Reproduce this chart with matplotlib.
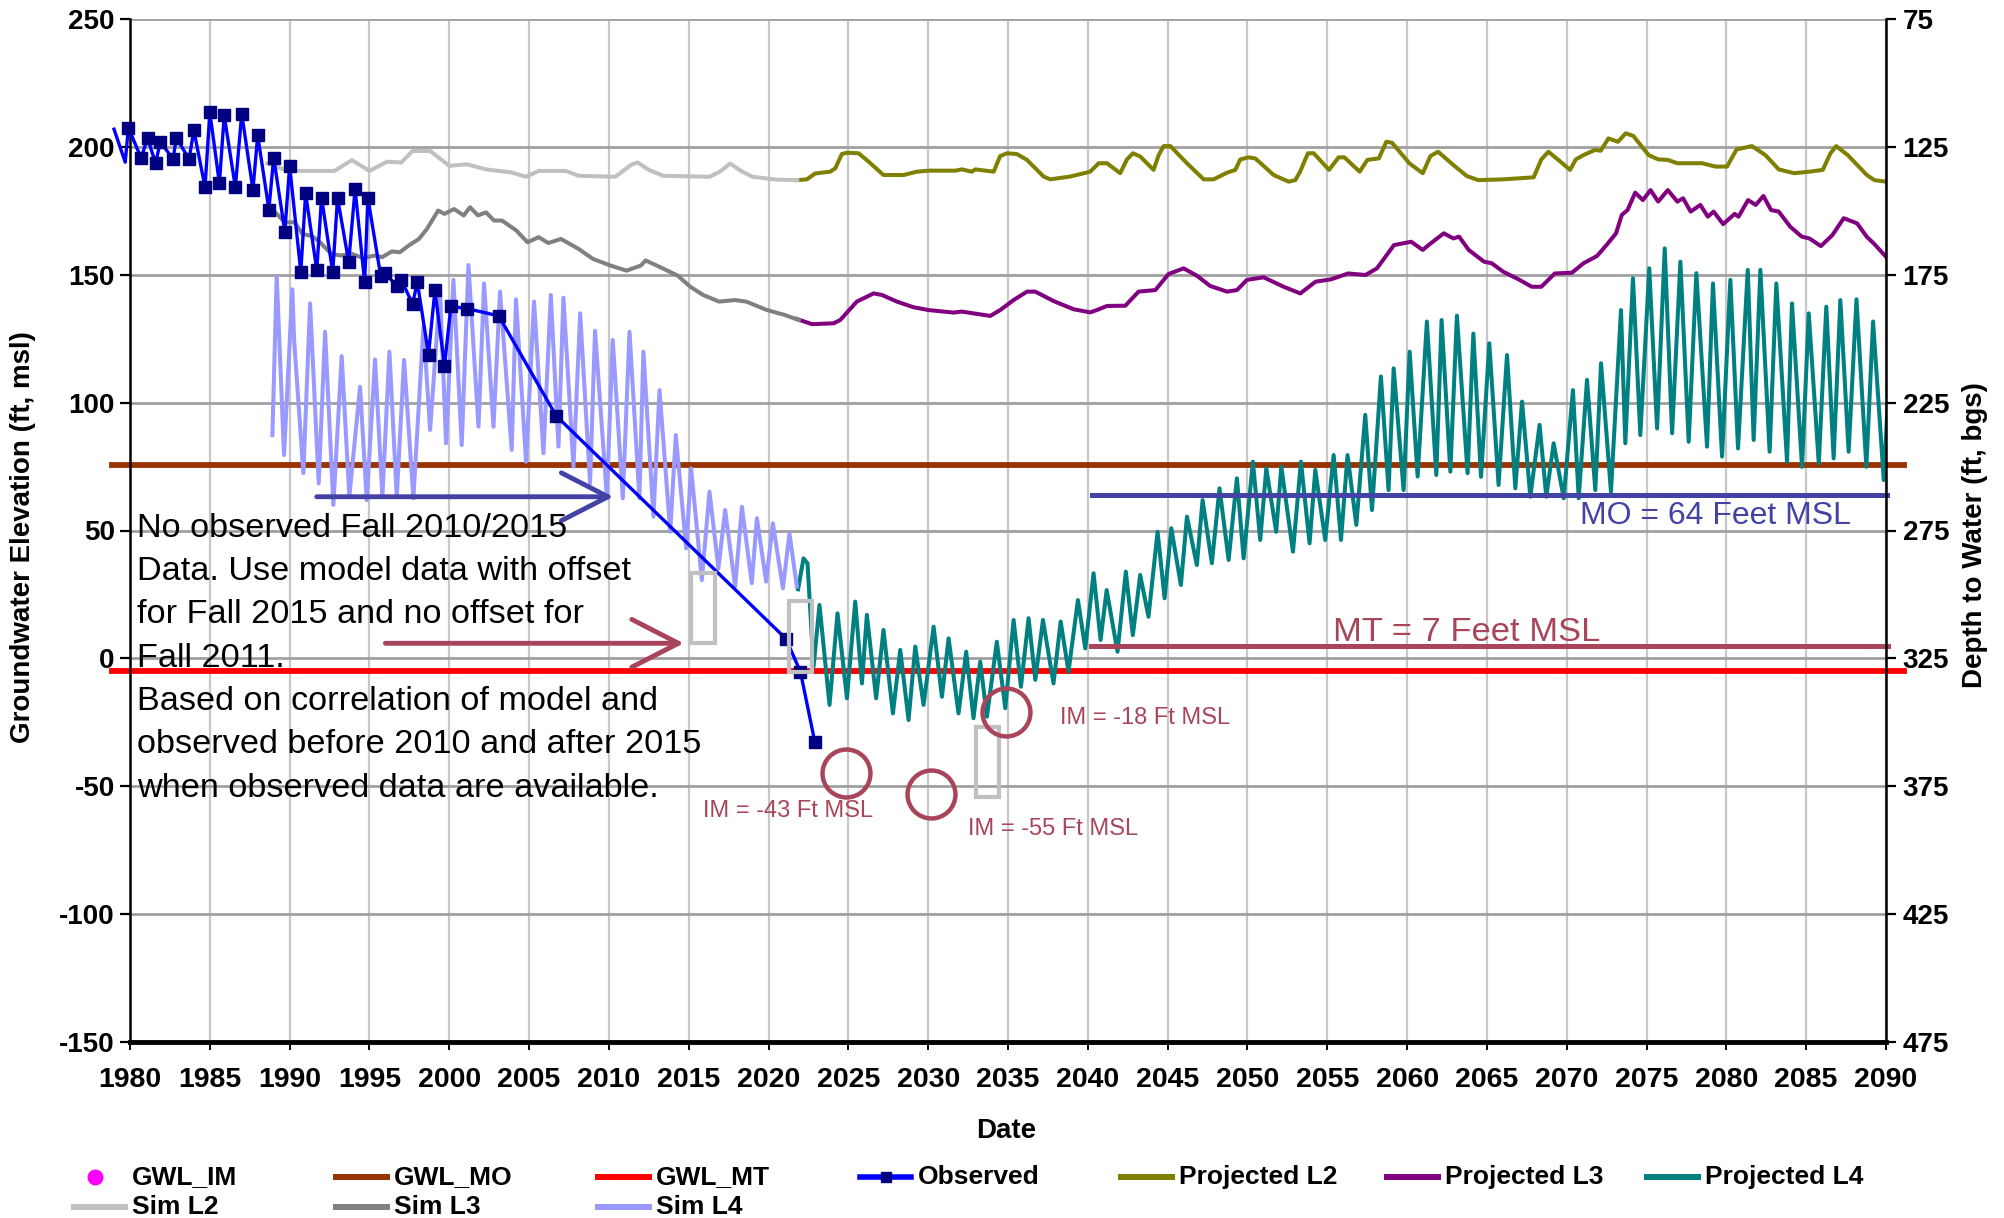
import matplotlib
matplotlib.use("Agg")
import matplotlib.pyplot as plt
from matplotlib.lines import Line2D
from matplotlib.patches import Rectangle

plt.rcParams["font.family"] = ["Liberation Sans", "DejaVu Sans"]
plt.rcParams["axes.unicode_minus"] = False

# ---- values ----
obs_year = [1979.0, 1979.7, 1979.9, 1980.7, 1981.1, 1981.6, 1981.9, 1982.7, 1982.9, 1983.7,
            1984.0, 1984.7, 1985.0, 1985.6, 1985.9, 1986.6, 1987.0, 1987.7, 1988.0, 1988.7,
            1989.0, 1989.7, 1990.0, 1990.7, 1991.0, 1991.7, 1992.0, 1992.7, 1993.0, 1993.7,
            1994.1, 1994.7, 1994.9, 1995.7, 1996.0, 1996.7, 1997.0, 1997.7, 1998.0, 1998.7,
            1999.1, 1999.7, 2000.1, 2001.1, 2003.1, 2006.7, 2021.1, 2022.0, 2022.9]
obs_elev = [206.9, 194.0, 207.5, 195.6, 203.6, 193.5, 202.0, 195.2, 203.6, 195.2,
            206.5, 184.2, 213.6, 185.7, 212.3, 184.2, 213.0, 183.2, 204.5, 175.5,
            195.8, 166.9, 192.6, 151.0, 181.8, 151.8, 180.1, 151.0, 180.1, 155.0,
            183.5, 147.0, 180.1, 149.7, 150.6, 145.6, 147.9, 138.6, 147.1, 118.8,
            143.9, 114.3, 137.6, 136.8, 133.9, 94.8, 7.6, -5.3, -32.7]

sim_l2_year = [1988.6, 1989.5, 1990.0, 1992.8, 1993.9, 1995.0, 1996.1, 1997.0, 1997.7, 1998.8,
               2000.0, 2001.1, 2002.3, 2003.9, 2004.8, 2005.6, 2007.3, 2008.1, 2010.4, 2011.4,
               2011.8, 2012.5, 2013.4, 2016.3, 2017.0, 2017.6, 2018.3, 2019.0, 2020.5, 2021.8]
sim_l2_elev = [193.5, 191.5, 190.6, 190.6, 194.8, 190.6, 194.2, 193.9, 198.4, 198.4,
               192.6, 193.2, 191.2, 190.0, 188.3, 190.6, 190.6, 188.7, 188.3, 193.0,
               193.9, 191.0, 188.7, 188.3, 190.5, 193.5, 190.5, 188.3, 187.2, 187.0]

sim_l3_year = [1988.7, 1989.1, 1989.7, 1990.3, 1990.8, 1991.4, 1991.9, 1992.6, 1993.2, 1993.9,
               1994.6, 1995.3, 1995.8, 1996.4, 1996.9, 1997.5, 1998.1, 1998.6, 1999.3, 1999.7,
               2000.3, 2000.9, 2001.3, 2001.8, 2002.3, 2002.8, 2003.3, 2004.2, 2004.9, 2005.6,
               2006.2, 2007.0, 2008.1, 2009.0, 2010.1, 2011.1, 2012.0, 2012.3, 2013.2, 2014.3,
               2015.1, 2015.9, 2016.9, 2017.9, 2018.6, 2019.9, 2021.0, 2021.9]
sim_l3_elev = [175.5, 174.4, 170.5, 170.5, 166.0, 165.1, 162.7, 158.2, 157.5, 158.2,
               156.5, 157.5, 156.9, 159.1, 158.8, 161.6, 164.0, 167.9, 175.1, 173.8,
               175.7, 173.2, 176.4, 173.2, 174.4, 171.2, 171.2, 167.3, 162.7, 164.7,
               162.4, 164.0, 160.1, 156.2, 153.6, 151.6, 153.6, 155.6, 153.0, 149.7,
               145.3, 142.1, 139.5, 140.1, 139.5, 136.2, 134.3, 132.3]

sim_l4_year = [1988.92, 1989.19, 1989.65, 1990.17, 1990.28, 1990.86, 1991.28, 1991.82, 1992.22, 1992.74,
               1993.26, 1993.74, 1994.41, 1994.83, 1995.35, 1995.81, 1996.25, 1996.71, 1997.17, 1997.75,
               1998.38, 1998.80, 1999.42, 1999.80, 2000.26, 2000.78, 2001.20, 2001.83, 2002.18, 2002.77,
               2003.18, 2003.91, 2004.18, 2004.81, 2005.31, 2005.90, 2006.36, 2006.84, 2007.15, 2007.78,
               2008.20, 2008.82, 2009.13, 2009.87, 2010.24, 2010.87, 2011.29, 2011.91, 2012.16, 2012.79,
               2013.17, 2013.84, 2014.19, 2014.84, 2015.15, 2015.82, 2016.30, 2016.86, 2017.28, 2017.91,
               2018.33, 2018.95, 2019.27, 2019.85, 2020.27, 2020.90, 2021.31, 2021.77]
sim_l4_elev = [87.3, 149.3, 79.5, 144.3, 124.5, 72.4, 138.8, 68.4, 127.7, 60.0,
               118.2, 63.2, 106.2, 61.9, 116.9, 63.2, 119.9, 63.2, 116.7, 62.6,
               129.7, 89.3, 144.0, 84.1, 148.0, 83.4, 153.8, 90.6, 146.6, 90.6,
               143.4, 81.5, 140.4, 76.9, 139.5, 80.2, 142.1, 82.8, 141.0, 75.0,
               134.9, 68.4, 128.1, 63.2, 124.5, 62.6, 127.7, 62.6, 119.9, 55.4,
               104.9, 49.5, 87.3, 43.0, 74.3, 30.6, 65.2, 35.2, 58.0, 28.1,
               59.3, 29.4, 54.8, 30.0, 52.8, 27.4, 48.9, 28.1]

proj_l2_year = [2021.77, 2022.40, 2022.92, 2023.86, 2024.18, 2024.59, 2024.91, 2025.64, 2026.27, 2027.20,
                2028.46, 2029.29, 2030.02, 2031.70, 2032.11, 2032.74, 2032.95, 2034.10, 2034.51, 2034.93,
                2035.56, 2036.19, 2037.23, 2037.65, 2038.90, 2040.15, 2040.68, 2041.20, 2042.03, 2042.45,
                2042.83, 2043.29, 2044.12, 2044.44, 2044.75, 2045.17, 2046.21, 2047.26, 2047.88, 2048.72,
                2049.24, 2049.55, 2050.07, 2050.49, 2051.64, 2052.58, 2053.00, 2053.31, 2053.79, 2054.15,
                2055.11, 2055.71, 2056.07, 2057.03, 2057.51, 2058.23, 2058.70, 2059.06, 2060.14, 2060.98,
                2061.46, 2061.94, 2062.90, 2063.74, 2064.46, 2066.02, 2067.93, 2068.41, 2068.85, 2069.61,
                2070.21, 2070.57, 2071.05, 2071.77, 2072.13, 2072.61, 2073.21, 2073.69, 2074.17, 2075.13,
                2075.73, 2076.33, 2076.93, 2078.48, 2079.32, 2080.04, 2080.64, 2081.60, 2082.44, 2083.28,
                2084.24, 2085.20, 2086.04, 2086.52, 2086.88, 2087.60, 2088.80, 2089.27, 2089.99]
proj_l2_elev = [187.0, 187.3, 189.6, 190.3, 191.6, 197.2, 197.7, 197.5, 194.2, 189.0,
                189.0, 190.3, 190.7, 190.7, 191.2, 190.3, 191.2, 190.3, 196.4, 197.5,
                197.2, 194.9, 188.4, 187.3, 188.4, 190.3, 193.6, 193.6, 189.7, 195.1,
                197.5, 196.2, 191.0, 196.8, 200.3, 200.3, 193.6, 187.3, 187.3, 189.9,
                191.0, 195.1, 195.9, 195.5, 189.0, 186.4, 187.0, 190.5, 197.5, 197.5,
                191.0, 195.9, 195.9, 190.3, 194.9, 195.5, 202.0, 201.6, 193.6, 189.7,
                196.4, 198.1, 192.9, 188.6, 187.0, 187.3, 188.1, 195.1, 198.1, 194.2,
                191.0, 195.1, 196.8, 198.8, 198.5, 203.3, 202.0, 205.3, 204.3, 196.8,
                195.1, 194.9, 193.6, 193.6, 192.3, 192.3, 199.0, 200.3, 196.8, 191.2,
                189.7, 190.3, 191.0, 197.5, 200.3, 196.8, 189.0, 187.0, 186.4]

proj_l3_year = [2021.77, 2022.71, 2024.07, 2024.49, 2025.53, 2026.58, 2027.10, 2028.04, 2029.08, 2030.02,
                2031.59, 2032.11, 2032.84, 2033.89, 2034.51, 2035.35, 2036.19, 2036.71, 2037.86, 2039.11,
                2040.15, 2040.57, 2041.20, 2042.35, 2043.18, 2044.23, 2045.06, 2046.00, 2046.84, 2047.67,
                2048.72, 2049.34, 2049.97, 2051.01, 2052.27, 2053.31, 2054.27, 2055.23, 2056.31, 2057.39,
                2058.11, 2059.18, 2060.26, 2060.98, 2061.34, 2062.30, 2062.90, 2063.26, 2063.86, 2064.82,
                2065.30, 2066.02, 2066.98, 2067.81, 2068.41, 2069.25, 2070.33, 2071.05, 2071.89, 2072.49,
                2073.09, 2073.45, 2073.81, 2074.29, 2074.77, 2075.25, 2075.73, 2076.33, 2076.93, 2077.29,
                2077.76, 2078.37, 2078.84, 2079.20, 2079.80, 2080.52, 2080.76, 2081.36, 2081.84, 2082.32,
                2082.80, 2083.28, 2084.00, 2084.72, 2085.20, 2085.92, 2086.64, 2087.35, 2088.19, 2088.79,
                2089.27, 2089.99]
proj_l3_elev = [132.7, 130.7, 131.0, 132.3, 139.5, 142.7, 142.1, 139.5, 137.3, 136.2,
                135.2, 135.6, 134.9, 133.9, 136.2, 140.1, 143.4, 143.4, 139.7, 136.5,
                135.3, 136.2, 137.8, 137.9, 143.4, 144.0, 150.3, 152.5, 149.6, 145.6,
                143.4, 144.0, 148.0, 149.0, 145.3, 142.7, 147.3, 148.2, 150.5, 149.9,
                152.5, 161.6, 162.9, 159.7, 161.6, 166.2, 164.2, 164.9, 159.7, 155.1,
                154.5, 151.2, 148.2, 145.3, 145.3, 150.5, 150.8, 154.5, 157.3, 161.6,
                166.2, 173.4, 175.3, 182.1, 179.2, 183.1, 178.6, 183.1, 178.6, 179.9,
                174.7, 177.3, 172.7, 174.7, 169.8, 173.8, 172.7, 179.2, 177.3, 180.8,
                175.3, 174.7, 168.8, 164.9, 164.2, 161.2, 165.5, 172.1, 170.1, 164.9,
                162.0, 157.1]

proj_l4_year = [2021.85, 2022.19, 2022.44, 2022.82, 2023.19, 2023.82, 2024.32, 2024.91, 2025.43, 2025.85,
                2026.16, 2026.74, 2027.20, 2027.79, 2028.25, 2028.77, 2029.19, 2029.71, 2030.34, 2030.86,
                2031.28, 2031.90, 2032.38, 2032.84, 2033.26, 2033.68, 2034.30, 2034.83, 2035.35, 2035.81,
                2036.29, 2036.71, 2037.19, 2037.85, 2038.30, 2038.79, 2039.38, 2039.84, 2040.36, 2040.80,
                2041.18, 2041.86, 2042.38, 2042.82, 2043.28, 2043.80, 2044.37, 2044.81, 2045.23, 2045.83,
                2046.21, 2046.83, 2047.19, 2047.77, 2048.25, 2048.82, 2049.34, 2049.76, 2050.34, 2050.80,
                2051.18, 2051.80, 2052.12, 2052.85, 2053.35, 2053.89, 2054.25, 2054.87, 2055.40, 2055.86,
                2056.27, 2056.82, 2057.38, 2057.80, 2058.36, 2058.84, 2059.16, 2059.78, 2060.16, 2060.66,
                2061.24, 2061.83, 2062.16, 2062.71, 2063.12, 2063.79, 2064.15, 2064.63, 2065.15, 2065.73,
                2066.26, 2066.78, 2067.20, 2067.72, 2068.30, 2068.72, 2069.18, 2069.81, 2070.39, 2070.75,
                2071.27, 2071.79, 2072.15, 2072.77, 2073.40, 2073.67, 2074.15, 2074.61, 2075.17, 2075.66,
                2076.14, 2076.60, 2077.12, 2077.64, 2078.12, 2078.79, 2079.16, 2079.73, 2080.25, 2080.73,
                2081.34, 2081.71, 2082.13, 2082.71, 2083.13, 2083.80, 2084.11, 2084.74, 2085.16, 2085.79,
                2086.26, 2086.72, 2087.14, 2087.66, 2088.15, 2088.77, 2089.19, 2089.86, 2090.15]
proj_l4_elev = [27.0, 39.1, 37.2, -3.2, 20.9, -18.2, 17.6, -15.6, 22.2, -9.8,
                17.0, -15.6, 11.1, -21.5, 3.3, -24.1, 4.6, -18.2, 12.4, -15.0,
                7.8, -21.5, 2.6, -23.4, -1.3, -22.8, 6.5, -19.5, 15.0, -11.1,
                15.7, -8.4, 15.0, -9.8, 14.4, -5.2, 22.8, 3.9, 33.3, 7.2,
                26.7, 2.6, 33.9, 9.1, 32.6, 16.3, 49.5, 23.5, 50.9, 28.7,
                55.4, 36.5, 61.9, 37.2, 66.5, 38.5, 70.4, 39.1, 76.9, 46.3,
                74.3, 49.5, 75.0, 41.7, 76.9, 45.0, 73.7, 46.3, 79.5, 46.3,
                79.5, 52.2, 95.2, 58.0, 110.2, 65.8, 113.4, 65.8, 119.9, 71.1,
                131.7, 71.7, 132.3, 73.0, 134.0, 72.4, 127.0, 71.0, 123.2, 67.8,
                118.6, 66.5, 100.4, 63.2, 91.3, 63.2, 84.1, 62.6, 104.9, 62.6,
                108.9, 65.8, 115.4, 65.2, 136.2, 84.1, 148.6, 87.3, 152.5, 89.9,
                160.3, 88.0, 155.1, 84.7, 150.6, 82.8, 146.6, 78.9, 148.0, 82.1,
                151.9, 85.4, 151.9, 80.8, 146.6, 76.9, 138.8, 74.9, 134.9, 76.2,
                137.5, 78.2, 140.1, 80.8, 140.4, 74.9, 131.7, 69.7, 105.0]

gwl_span = [1978.9, 2091.1]
gwl_mo = 75.5
gwl_mt = -5.0

mo_goal_span = [2040.25, 2090.05]
mo_goal = 64.0
mt_goal_span = [2040.2, 2090.1]
mt_goal = 5.0

im_year = [2024.88, 2030.15, 2034.9]
im_elev = [-44.7, -53.0, -21.1]

note_lines = ["No observed Fall 2010/2015",
              "Data. Use model data with offset",
              "for Fall 2015 and no offset for",
              "Fall 2011.",
              "Based on correlation of model and",
              "observed before 2010 and after 2015",
              "when observed data are available."]

year_ticks = list(range(1980, 2091, 5))
elev_ticks = list(range(-150, 251, 50))
depth_ticks = list(range(75, 476, 50))

MO_C, MT_C = "#993300", "#FF0000"
OBS_C, OBS_M = "#0000FF", "#000080"
PL2_C, PL3_C, PL4_C = "#808000", "#800080", "#008080"
SL2_C, SL3_C, SL4_C = "#C0C0C0", "#808080", "#9999FF"
IM_C = "#FF00FF"
NOTE_BLUE, NOTE_RED = "#4343A6", "#A8455A"

W, H = 2004, 1218
fig = plt.figure(figsize=(W / 100, H / 100), dpi=100)
ax = fig.add_axes([130 / W, 1 - 1042 / H, 1756 / W, 1023 / H])

# threshold lines (run slightly past the plot edges like the original)
ax.plot(gwl_span, [gwl_mo, gwl_mo], color=MO_C, lw=4.2, clip_on=False, zorder=2)
ax.plot(gwl_span, [gwl_mt, gwl_mt], color=MT_C, lw=4.2, clip_on=False, zorder=2)

lw = 2.9
ax.plot(proj_l2_year, proj_l2_elev, color=PL2_C, lw=lw, zorder=3)
ax.plot(proj_l3_year, proj_l3_elev, color=PL3_C, lw=lw, zorder=3)
ax.plot(proj_l4_year, proj_l4_elev, color=PL4_C, lw=lw, zorder=3)
ax.plot(sim_l2_year, sim_l2_elev, color=SL2_C, lw=lw, zorder=3)
ax.plot(sim_l3_year, sim_l3_elev, color=SL3_C, lw=lw, zorder=3)
ax.plot(sim_l4_year, sim_l4_elev, color=SL4_C, lw=lw, zorder=3)
ax.plot(obs_year, obs_elev, color=OBS_C, lw=2.4, marker="s", ms=8.5,
        mfc=OBS_M, mec=OBS_M, markevery=list(range(2, len(obs_year))),
        clip_on=False, zorder=4)

ax.set_xlim(1980, 2090)
ax.set_ylim(-150, 250)
ax.set_xticks(year_ticks)
ax.set_yticks(elev_ticks)
ax.xaxis.grid(True, color="#C8C8C8", lw=1.6)
ax.yaxis.grid(True, color="#A0A0A0", lw=2.0)
ax.set_axisbelow(True)
for s in ["top", "right"]:
    ax.spines[s].set_visible(False)
ax.spines["left"].set_linewidth(1.8)
ax.spines["bottom"].set_linewidth(3.5)
ax.tick_params(axis="y", labelsize=20, length=7, width=1.6, pad=4)
ax.tick_params(axis="x", labelsize=20.5, length=6, width=1.4, pad=12)

ax2 = ax.twinx()
ax2.set_ylim(325 - (-150), 325 - 250)
ax2.set_yticks(depth_ticks)
for s in ["top", "left", "bottom"]:
    ax2.spines[s].set_visible(False)
ax2.spines["right"].set_linewidth(1.8)
ax2.tick_params(axis="y", labelsize=20, length=7, width=1.6, pad=5)

for lab in ax.get_xticklabels() + ax.get_yticklabels() + ax2.get_yticklabels():
    lab.set_fontweight("bold")

fig.text(23 / W, 1 - 537 / H, "Groundwater Elevation (ft, msl)", rotation=90,
         ha="center", va="center", fontsize=20, fontweight="bold")
fig.text(1975 / W, 1 - 535 / H, "Depth to Water (ft, bgs)", rotation=90,
         ha="center", va="center", fontsize=20, fontweight="bold")
fig.text(1006 / W, 1 - 1131 / H, "Date", ha="center", va="center",
         fontsize=20, fontweight="bold")

# annotations
arrow = dict(arrowstyle="->,head_length=1.68,head_width=0.86", mutation_scale=20,
             lw=3.5, shrinkA=0, shrinkB=0)
ax.annotate("", xy=(2010.28, 63.2), xytext=(1991.7, 63.2),
            arrowprops=dict(arrow, color=NOTE_BLUE), zorder=5)
ax.annotate("", xy=(2014.69, 5.9), xytext=(1996.0, 5.9),
            arrowprops=dict(arrow, color=NOTE_RED), zorder=5)

for x0, y0, w, h in [(2015.13, 6.1, 1.52, 27.4), (2021.27, -5.2, 1.46, 27.8),
                     (2033.0, -54.3, 1.45, 27.6)]:
    ax.add_patch(Rectangle((x0, y0), w, h, fill=False, ec="#C0C0C0", lw=3.0, zorder=5))

ax.plot(im_year, im_elev, "o", ms=34.5, mfc="none", mec=NOTE_RED, mew=3.2, zorder=5)
ax.text(2015.87, -61.9, "IM = -43 Ft MSL", color=NOTE_RED, fontsize=17, va="baseline")
ax.text(2032.50, -69.1, "IM = -55 Ft MSL", color=NOTE_RED, fontsize=17, va="baseline")
ax.text(2038.26, -25.7, "IM = -18 Ft MSL", color=NOTE_RED, fontsize=17, va="baseline")

ax.plot(mo_goal_span, [mo_goal, mo_goal], color=NOTE_BLUE, lw=3.6, clip_on=False, zorder=5)
ax.plot(mt_goal_span, [mt_goal, mt_goal], color=NOTE_RED, lw=3.6, clip_on=False, zorder=5)
ax.text(2070.82, 52.5, "MO = 64 Feet MSL", color=NOTE_BLUE, fontsize=23, va="baseline")
ax.text(2055.38, 6.9, "MT = 7 Feet MSL", color=NOTE_RED, fontsize=24.8, va="baseline")

for i, line in enumerate(note_lines):
    ax.text(1980.45, 47.6 - 16.95 * i, line, fontsize=24.7, va="baseline", zorder=6)

# legend laid out like the original two rows
legend_rows = [
    [("GWL_IM", "im"), ("GWL_MO", MO_C), ("GWL_MT", MT_C), ("Observed", "obs"),
     ("Projected L2", PL2_C), ("Projected L3", PL3_C), ("Projected L4", PL4_C)],
    [("Sim L2", SL2_C), ("Sim L3", SL3_C), ("Sim L4", SL4_C)],
]
col_x = [132, 394, 656, 918, 1179, 1445, 1705]
row_y = [1177, 1207]
for r, row in enumerate(legend_rows):
    fy = 1 - row_y[r] / H
    for c, (label, style) in enumerate(row):
        tx = col_x[c]
        if style == "im":
            fig.add_artist(Line2D([95 / W], [fy], marker="o", ms=10.5, color=IM_C, lw=0))
        elif style == "obs":
            fig.add_artist(Line2D([(tx - 58) / W, (tx - 7) / W], [fy, fy], color=OBS_C, lw=4))
            fig.add_artist(Line2D([(tx - 32.5) / W], [fy], marker="s", ms=7, color=OBS_M, lw=0))
        else:
            fig.add_artist(Line2D([(tx - 58) / W, (tx - 7) / W], [fy, fy], color=style, lw=4.3))
        fig.text(tx / W, fy, label, ha="left", va="center", fontsize=19, fontweight="bold")

fig.savefig("out.png", dpi=100)
